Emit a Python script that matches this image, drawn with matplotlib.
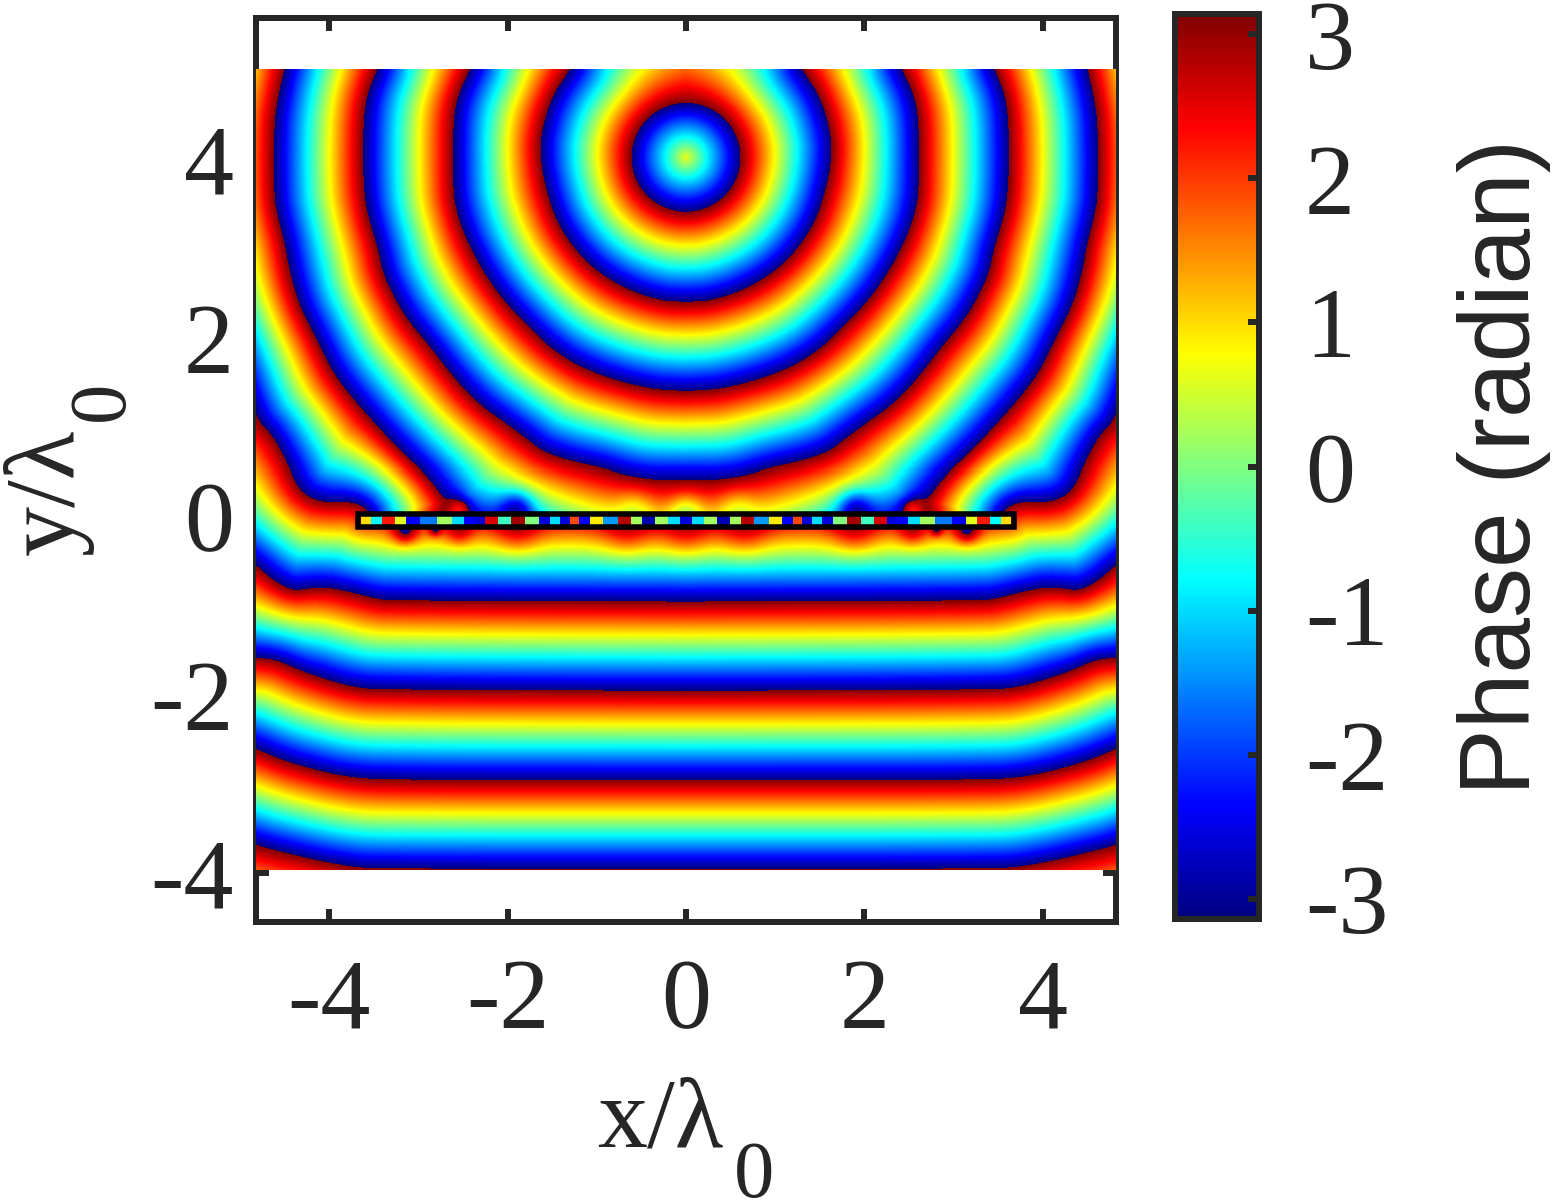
import numpy as np
import matplotlib
matplotlib.use("Agg")
import matplotlib.pyplot as plt
from matplotlib.colors import LinearSegmentedColormap
from matplotlib.path import Path
from matplotlib.patches import Rectangle

plt.rcParams['font.family'] = ['Liberation Serif', 'DejaVu Sans']

# Every front_* list is one phase wrap line (dark blue next to dark red), in x/lambda, y/lambda.
source_x, source_y = 0.0, 4.01
ring_radius = 0.61
source_phase = 0.65

front_2 = [(-1.30, 5.00), (-1.52, 4.66), (-1.63, 4.25), (-1.63, 3.99), (-1.58, 3.69), (-1.45, 3.28),
           (-1.21, 2.93), (-0.93, 2.68), (-0.59, 2.50), (-0.26, 2.40), (0, 2.39)]
front_3 = [(-2.42, 5.00), (-2.56, 4.70), (-2.61, 4.41), (-2.61, 3.80), (-2.60, 3.51), (-2.50, 3.17),
           (-2.31, 2.79), (-2.09, 2.46), (-1.78, 2.12), (-1.41, 1.78), (-0.96, 1.56), (-0.40, 1.41), (0, 1.39)]
front_4 = [(-3.46, 5.00), (-3.58, 4.70), (-3.62, 4.36), (-3.62, 3.77), (-3.58, 3.40), (-3.45, 2.98),
           (-3.40, 2.72), (-3.28, 2.46), (-3.13, 2.20), (-2.87, 1.89), (-2.68, 1.64), (-2.46, 1.38),
           (-2.25, 1.19), (-2.09, 1.08), (-1.78, 0.85), (-1.60, 0.71), (-1.30, 0.61), (-0.96, 0.54),
           (-0.52, 0.40), (0, 0.40)]
front_5 = [(-4.50, 5.00), (-4.57, 4.70), (-4.62, 4.36), (-4.62, 3.58), (-4.57, 3.32), (-4.50, 3.06),
           (-4.44, 2.72), (-4.33, 2.34), (-4.14, 1.97), (-3.96, 1.60), (-3.73, 1.30), (-3.40, 0.93),
           (-3.13, 0.66), (-2.90, 0.44), (-2.76, 0.26), (-2.70, 0.15), (-2.74, 0.04)]
# where the line runs on behind the plate (sets the colour gradient above the plate)
front_5_hidden = [(-1.89, -0.27), (-1.41, -0.55), (-0.96, -0.66), (-0.52, -0.77), (0, -0.77)]
front_6 = [(-5.45, 5.56), (-5.49, 5.00), (-5.62, 4.33), (-5.58, 3.54), (-5.35, 2.42), (-5.08, 1.86),
           (-4.82, 1.08), (-4.63, 0.89), (-4.47, 0.59), (-4.36, 0.33), (-4.22, 0.20), (-4.02, 0.15),
           (-3.77, 0.16), (-3.62, 0.11), (-3.56, 0.04)]
front_6_hidden = [(0, 0.03)]
front_7 = [(-5.45, -0.04), (-5.11, -0.33), (-4.82, -0.55), (-4.63, -0.72), (-4.41, -0.84), (-4.22, -0.81),
           (-4.02, -0.80), (-3.77, -0.85), (-3.51, -0.92), (-3.32, -0.95), (0, -0.96)]
front_8 = [(-5.45, -1.50), (-4.82, -1.59), (-4.59, -1.61), (-4.33, -1.73), (-4.07, -1.82), (-3.77, -1.91),
           (-3.46, -1.95), (0, -1.96)]
front_9 = [(-5.45, -2.34), (-4.82, -2.61), (-4.52, -2.74), (-4.14, -2.85), (-3.77, -2.93), (-3.32, -2.96),
           (0, -2.96)]
front_10 = [(-5.45, -3.46), (-4.82, -3.69), (-4.52, -3.77), (-4.14, -3.86), (-3.77, -3.93), (-3.46, -3.955),
            (0, -3.955)]
front_11 = [(-5.45, -4.95), (0, -4.95)]

# small near field spots next to the plate
spot_x = [-2.54, -1.89, -0.57, 0.0, -3.15, -2.81, -2.54, -1.89, -0.66, 0.0]
spot_y = [0.09, 0.09, 0.10, 0.07, -0.18, -0.16, -0.18, -0.18, -0.19, -0.21]
spot_phase = [-1.4, -1.7, -0.7, -1.0, 1.6, 1.4, 1.0, 0.9, 0.8, 0.8]
spot_size = [0.09, 0.14, 0.15, 0.13, 0.10, 0.05, 0.11, 0.18, 0.20, 0.20]

# colours seen in the thin strip inside the plate outline, left half
strip_x = [-3.59, -3.48, -3.33, -3.20, -3.08, -2.89, -2.70, -2.55, -2.42, -2.32, -2.18, -2.04, -1.88, -1.72,
           -1.58, -1.46, -1.36, -1.25, -1.14, -1.02, -0.85, -0.68, -0.56, -0.43, -0.27, -0.13, 0.0]
strip_phase = [1.0, -0.8, 2.2, 0.6, -2.4, -1.6, 0.2, -1.0, -2.4, -2.6, 2.6, -0.4, 2.9, 0.0,
               -2.6, -1.0, -2.6, 1.9, -2.4, 0.9, -1.4, 2.8, 0.2, -2.8, 0.2, -1.0, -2.6]

plate_half_width = 3.68
plate_top, plate_bottom = 0.017, -0.123

x_ticks = [-4, -2, 0, 2, 4]
y_ticks = [-4, -2, 0, 2, 4]
cbar_ticks = [-3, -2, -1, 0, 1, 2, 3]
map_x = 4.82
map_top, map_bottom = 5.0, -3.97

TEXT_COLOR = '#262626'

# same stops as the matlab jet map, matplotlib's own is a bit different
jet = LinearSegmentedColormap.from_list('matlab_jet', [
    (0, (0, 0, 0.5)), (1 / 8, (0, 0, 1)), (3 / 8, (0, 1, 1)),
    (5 / 8, (1, 1, 0)), (7 / 8, (1, 0, 0)), (1, (0.5, 0, 0))], N=256)


def smooth(line, rounds=2):
    # corner cutting so the read points don't show as kinks
    pts = np.array(line, dtype=float)
    for _ in range(rounds):
        q = 0.75 * pts[:-1] + 0.25 * pts[1:]
        s = 0.25 * pts[:-1] + 0.75 * pts[1:]
        mid = np.empty((2 * len(q), 2))
        mid[0::2] = q
        mid[1::2] = s
        pts = np.vstack([pts[0], mid, pts[-1]])
    return pts


def distance_to_line(px, py, pts):
    best = np.full(px.shape, np.inf)
    for (x0, y0), (x1, y1) in zip(pts[:-1], pts[1:]):
        dx, dy = x1 - x0, y1 - y0
        t = np.clip(((px - x0) * dx + (py - y0) * dy) / (dx * dx + dy * dy + 1e-12), 0, 1)
        best = np.minimum(best, np.hypot(px - x0 - t * dx, py - y0 - t * dy))
    return best


def region(front):
    # area on the source side of a front; fronts stopped by the plate close along its middle
    pts = [tuple(p) for p in smooth(front)]
    if pts[-1][0] < 0:
        pts = pts + [(pts[-1][0], -0.05), (0, -0.05)]
    pts = pts + [(0, 7), (pts[0][0], 7)]
    return Path(pts + [pts[0]])


# phase of the left half, pixel by pixel, ramping from +pi to -pi between neighbouring fronts
nx, ny = 430, 800
xs = (np.arange(nx) + 0.5) / nx * map_x - map_x
ys = map_top - (np.arange(ny) + 0.5) / ny * (map_top - map_bottom)
gx, gy = np.meshgrid(xs, ys)
points = np.column_stack([gx.ravel(), gy.ravel()])

walls = [front_2, front_3, front_4, front_5, front_6, front_7, front_8, front_9, front_10]
band = np.zeros(gx.shape, dtype=int)
for wall in walls:
    band += ~region(wall).contains_points(points).reshape(gx.shape)

inner = [None, front_2, front_3, front_4, front_5, front_6 + front_6_hidden, front_7, front_8, front_9, front_10]
outer = [front_2, front_3, front_4, front_5 + front_5_hidden, front_6, front_7, front_8, front_9, front_10, front_11]

r = np.hypot(gx - source_x, gy - source_y)
phase = np.zeros(gx.shape)
for i in range(len(inner)):
    m = band == i
    d_out = distance_to_line(gx[m], gy[m], smooth(outer[i]))
    if inner[i] is None:
        d_in = np.abs(r[m] - ring_radius)
    else:
        d_in = distance_to_line(gx[m], gy[m], smooth(inner[i]))
    phase[m] = np.pi - 2 * np.pi * d_in / (d_in + d_out)

hole = r < ring_radius
phase[hole] = source_phase + (-np.pi - source_phase) * r[hole] / ring_radius

for sx, sy, sp, ss in zip(spot_x, spot_y, spot_phase, spot_size):
    same_side = (gy > -0.05) == (sy > -0.05)
    phase += same_side * sp * np.exp(-((gx - sx) ** 2 + (gy - sy) ** 2) / (2 * ss ** 2))

phase = np.angle(np.exp(1j * phase))
phase_map = np.hstack([phase, np.fliplr(phase)])

fig = plt.figure(figsize=(15.52, 12), dpi=100)
ax = fig.add_axes([256 / 1552, 1 - 922 / 1200, 860 / 1552, 904 / 1200])
cax = fig.add_axes([1175 / 1552, 1 - 919 / 1200, 84 / 1552, 905 / 1200])

# image on top of the frame and ticks, as in the original
im = ax.imshow(phase_map, extent=[-map_x, map_x, map_bottom, map_top], origin='upper', cmap=jet,
               vmin=-np.pi, vmax=np.pi, aspect='auto', interpolation='nearest', zorder=5)

strip_xx = np.array(strip_x + [-v for v in strip_x[-2::-1]])
strip_cc = np.array(strip_phase + strip_phase[-2::-1])
strip_h = plate_top - plate_bottom
ax.pcolormesh(strip_xx, [plate_bottom + strip_h / 4, plate_top - strip_h / 4], np.vstack([strip_cc, strip_cc]),
              shading='nearest', cmap=jet, vmin=-np.pi, vmax=np.pi, zorder=6)
ax.add_patch(Rectangle((-plate_half_width, plate_bottom), 2 * plate_half_width, strip_h,
                       fill=False, edgecolor='black', linewidth=4.0, zorder=7))

ax.set_xlim(-4.82, 4.82)
ax.set_ylim(-4.55, 5.58)
ax.set_xticks(x_ticks)
ax.set_yticks(y_ticks)
ax.set_xticklabels([str(v) for v in x_ticks])
ax.set_yticklabels([str(v) for v in y_ticks])
ax.tick_params(axis='both', direction='in', top=True, right=True, length=9.4, width=4.3, color=TEXT_COLOR,
               labelsize=72, labelcolor=TEXT_COLOR)
ax.tick_params(axis='x', pad=26)
ax.tick_params(axis='y', pad=16)
for spine in ax.spines.values():
    spine.set_linewidth(4.3)
    spine.set_color(TEXT_COLOR)

# subscripts sit lower than mathtext would put them, so they are their own texts
ax.set_xlabel('x/λ', fontsize=72, color=TEXT_COLOR, va='baseline')
ax.xaxis.set_label_coords((660 - 256) / 860, (922 - 1147) / 904)
ax.set_ylabel('y/λ', fontsize=72, color=TEXT_COLOR, va='baseline')
ax.yaxis.set_label_coords((73 - 256) / 860, (922 - 492) / 904)
fig.text(754 / 1552, 1 - 1197 / 1200, '0', fontsize=58, color=TEXT_COLOR, ha='center', va='baseline')
fig.text(123 / 1552, 1 - 401 / 1200, '0', fontsize=58, color=TEXT_COLOR, ha='center', va='baseline',
         rotation=90, rotation_mode='anchor')

cbar = fig.colorbar(im, cax=cax, ticks=cbar_ticks)
cbar.ax.set_yticklabels([str(v) for v in cbar_ticks])
cbar.ax.tick_params(direction='in', length=8, width=4.3, color=TEXT_COLOR, labelsize=72, labelcolor=TEXT_COLOR, pad=33)
cbar.outline.set_linewidth(4.3)
cbar.outline.set_edgecolor(TEXT_COLOR)
cbar.set_label('Phase (radian)', fontsize=72, color=TEXT_COLOR, family='Liberation Sans')
cbar.ax.yaxis.set_label_coords(3.36, 0.5)

fig.savefig('out.png', dpi=100)
